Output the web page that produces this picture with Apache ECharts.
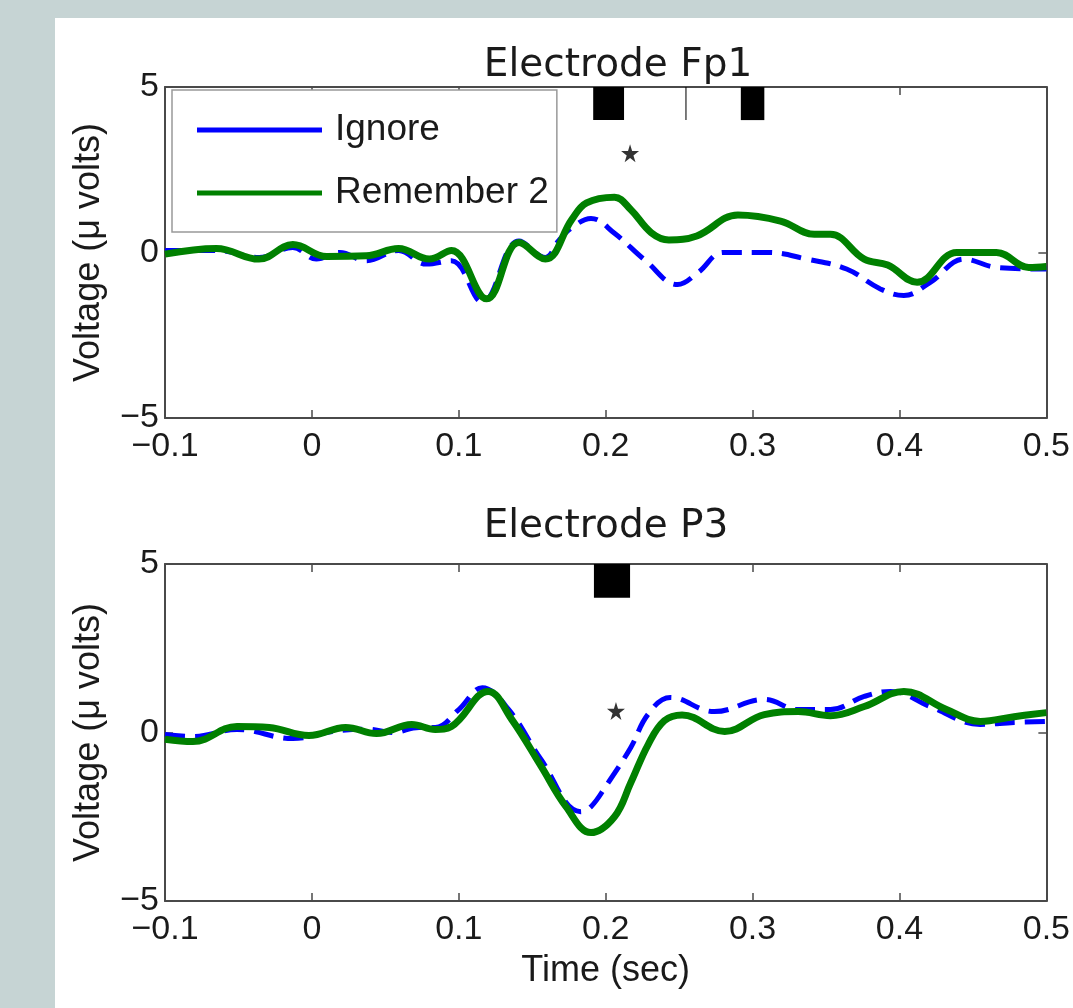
<!DOCTYPE html>
<html><head><meta charset="utf-8">
<script src="https://cdn.jsdelivr.net/npm/echarts@6/dist/echarts.min.js"></script>
<style>html,body{margin:0;padding:0;background:#c6d4d4}#c{width:1073px;height:1008px}</style>
</head><body><div id="c"></div>
<script>
// ---------- data ----------
const seriesNames = ['Ignore', 'Remember 2'];
const titles = ['Electrode Fp1', 'Electrode P3'];
const xTickValues = [-0.1, 0, 0.1, 0.2, 0.3, 0.4, 0.5];
const xTickLabels = ['\u22120.1', '0', '0.1', '0.2', '0.3', '0.4', '0.5'];
const yTickValues = [-5, 0, 5];
const yTickLabels = ['\u22125', '0', '5'];
const xName = 'Time (sec)';
const yName = 'Voltage (\u03bc volts)';

// Electrode Fp1
const fp1IgnT = [-0.1, -0.065, -0.036, -0.013, 0.003, 0.019, 0.037, 0.059, 0.078, 0.095, 0.116, 0.141, 0.159, 0.168, 0.177, 0.190, 0.206, 0.227, 0.249, 0.263, 0.280, 0.310, 0.337, 0.364, 0.387, 0.403, 0.421, 0.444, 0.466, 0.5];
const fp1IgnV = [0.06, 0.06, -0.15, 0.15, -0.2, 0.0, -0.25, 0.06, -0.35, -0.25, -1.5, 0.35, -0.15, 0.36, 0.75, 1.03, 0.58, -0.24, -0.97, -0.6, 0.0, 0.0, -0.2, -0.5, -1.1, -1.3, -0.9, -0.2, -0.45, -0.5];
const fp1RemT = [-0.1, -0.065, -0.036, -0.013, 0.010, 0.037, 0.059, 0.080, 0.095, 0.119, 0.141, 0.159, 0.177, 0.187, 0.206, 0.217, 0.231, 0.243, 0.262, 0.290, 0.319, 0.342, 0.353, 0.376, 0.392, 0.412, 0.439, 0.466, 0.488, 0.5];
const fp1RemV = [-0.05, 0.12, -0.2, 0.24, -0.12, -0.1, 0.12, -0.2, 0.06, -1.4, 0.3, -0.2, 1.0, 1.5, 1.67, 1.3, 0.6, 0.38, 0.5, 1.13, 0.95, 0.55, 0.55, -0.2, -0.38, -0.9, 0.0, 0.0, -0.45, -0.42];
const fp1SigStart = [0.1915, 0.2543, 0.2920];
const fp1SigEnd   = [0.2125, 0.2550, 0.3080];
const fp1Star = [0.2166, 3.0];

// Electrode P3
const p3IgnT = [-0.1, -0.081, -0.051, -0.013, 0.014, 0.037, 0.055, 0.073, 0.084, 0.100, 0.116, 0.134, 0.156, 0.183, 0.190, 0.200, 0.217, 0.229, 0.244, 0.274, 0.308, 0.331, 0.353, 0.376, 0.394, 0.421, 0.455, 0.478, 0.5];
const p3IgnV = [-0.06, -0.12, 0.09, -0.18, 0.03, 0.1, 0.0, 0.15, 0.15, 0.68, 1.33, 0.68, -0.8, -2.35, -2.2, -1.6, -0.45, 0.55, 1.04, 0.62, 0.98, 0.68, 0.68, 1.07, 1.22, 0.77, 0.24, 0.3, 0.33];
const p3RemT = [-0.1, -0.081, -0.051, -0.029, -0.002, 0.023, 0.044, 0.068, 0.084, 0.095, 0.120, 0.136, 0.156, 0.173, 0.190, 0.206, 0.217, 0.229, 0.240, 0.252, 0.281, 0.308, 0.331, 0.353, 0.376, 0.403, 0.432, 0.455, 0.478, 0.5];
const p3RemV = [-0.2, -0.27, 0.18, 0.15, -0.09, 0.15, -0.03, 0.24, 0.09, 0.18, 1.22, 0.39, -1.0, -2.2, -2.97, -2.5, -1.5, -0.35, 0.35, 0.52, 0.03, 0.53, 0.62, 0.5, 0.77, 1.22, 0.68, 0.33, 0.47, 0.59];
const p3SigStart = [0.192];
const p3SigEnd   = [0.2166];
const p3Star = [0.207, 0.64];

const sigLow = 4, sigHigh = 5;

// ---------- styles ----------
const BLUE = '#0000ff', GREEN = '#008000', AX = '#4a4a4a';
const tickFont = {fontFamily: 'Liberation Sans', fontSize: 34, color: '#1a1a1a'};
const nameFont = {fontFamily: 'Liberation Sans', fontSize: 36, color: '#1a1a1a'};
const STAR = 'path://M50,0 L61,35 L98,35 L68,57 L79,91 L50,70 L21,91 L32,57 L2,35 L39,35 Z';

function zip(t, v) { return t.map((x, i) => [x, v[i]]); }
function xLab(v) { const i = xTickValues.findIndex(t => Math.abs(t - v) < 1e-6); return i >= 0 ? xTickLabels[i] : ''; }
function yLab(v) { const i = yTickValues.findIndex(t => Math.abs(t - v) < 1e-6); return i >= 0 ? yTickLabels[i] : ''; }

const grids = [
  {left: 165, right: 23, top: 87, height: 331},
  {left: 165, right: 23, top: 564, height: 337}
];

const xAxes = [], yAxes = [];
grids.forEach((g, gi) => {
  const line = {show: true, onZero: false, lineStyle: {color: AX, width: 2}};
  const tick = {show: true, inside: true, length: 8, lineStyle: {color: AX, width: 1.5}};
  xAxes.push({gridIndex: gi, type: 'value', min: -0.1, max: 0.5, interval: 0.1, position: 'bottom',
    axisLine: line, axisTick: tick, splitLine: {show: false},
    axisLabel: Object.assign({margin: 12, formatter: xLab}, tickFont),
    name: gi === 1 ? xName : '', nameLocation: 'middle', nameGap: 52, nameTextStyle: nameFont});
  xAxes.push({gridIndex: gi, type: 'value', min: -0.1, max: 0.5, interval: 0.1, position: 'top',
    axisLine: line, axisTick: tick, splitLine: {show: false}, axisLabel: {show: false}});
  yAxes.push({gridIndex: gi, type: 'value', min: -5, max: 5, interval: 5, position: 'left',
    axisLine: line, axisTick: tick, splitLine: {show: false},
    axisLabel: Object.assign({margin: 6, formatter: yLab}, tickFont),
    name: yName, nameLocation: 'middle', nameGap: 58, nameRotate: 90, nameTextStyle: nameFont});
  yAxes.push({gridIndex: gi, type: 'value', min: -5, max: 5, interval: 5, position: 'right',
    axisLine: line, axisTick: tick, splitLine: {show: false}, axisLabel: {show: false}});
});

function sigAreas(s, e) {
  return s.map((x, i) => [{xAxis: x, yAxis: sigLow}, {xAxis: e[i], yAxis: sigHigh}]);
}

function panelSeries(gi, ignT, ignV, remT, remV, sigS, sigE, star) {
  const xi = gi * 2, yi = gi * 2;
  return [
    {name: seriesNames[0], type: 'line', xAxisIndex: xi, yAxisIndex: yi, data: zip(ignT, ignV),
      smooth: 0.4, showSymbol: false, symbol: 'none', z: 3,
      lineStyle: {color: BLUE, width: 5, type: [20, 10]}, itemStyle: {color: BLUE}},
    {name: seriesNames[1], type: 'line', xAxisIndex: xi, yAxisIndex: yi, data: zip(remT, remV),
      smooth: 0.4, showSymbol: false, symbol: 'none', z: 4,
      lineStyle: {color: GREEN, width: 7}, itemStyle: {color: GREEN},
      markArea: {silent: true, itemStyle: {color: '#000', opacity: 1, borderWidth: 0}, data: sigAreas(sigS, sigE)}},
    {type: 'scatter', xAxisIndex: xi, yAxisIndex: yi, data: [star], symbol: STAR, symbolSize: 18,
      itemStyle: {color: '#000'}, silent: true, z: 5}
  ];
}

const option = {
  animation: false,
  backgroundColor: '#c6d4d4',
  graphic: [{type: 'rect', shape: {x: 55, y: 18, width: 1018, height: 990}, style: {fill: '#ffffff'}, z: -10, silent: true}],
  title: [
    {text: titles[0], left: 613, top: 41, textAlign: 'center', textStyle: {fontFamily: 'DejaVu Sans', fontSize: 39, fontWeight: 'normal', color: '#1a1a1a'}},
    {text: titles[1], left: 601, top: 502, textAlign: 'center', textStyle: {fontFamily: 'DejaVu Sans', fontSize: 39, fontWeight: 'normal', color: '#1a1a1a'}}
  ],
  legend: {
    show: true, orient: 'vertical', left: 172, top: 90, selectedMode: false,
    data: [{name: seriesNames[0], icon: 'rect', itemStyle: {color: BLUE}},
           {name: seriesNames[1], icon: 'rect', itemStyle: {color: GREEN}}],
    itemWidth: 125, itemHeight: 5, itemGap: 13, padding: [15, 8, 14, 25],
    backgroundColor: '#ffffff', borderColor: '#999', borderWidth: 1.5, borderRadius: 0,
    textStyle: {fontFamily: 'Liberation Sans', fontSize: 37, color: '#1a1a1a', lineHeight: 50, padding: [0, 0, 0, 8]}
  },
  grid: grids,
  xAxis: xAxes,
  yAxis: yAxes,
  series: [].concat(
    panelSeries(0, fp1IgnT, fp1IgnV, fp1RemT, fp1RemV, fp1SigStart, fp1SigEnd, fp1Star),
    panelSeries(1, p3IgnT, p3IgnV, p3RemT, p3RemV, p3SigStart, p3SigEnd, p3Star)
  )
};
const chart = echarts.init(document.getElementById('c'), null, {renderer: 'canvas'});
chart.setOption(option);
</script></body></html>
